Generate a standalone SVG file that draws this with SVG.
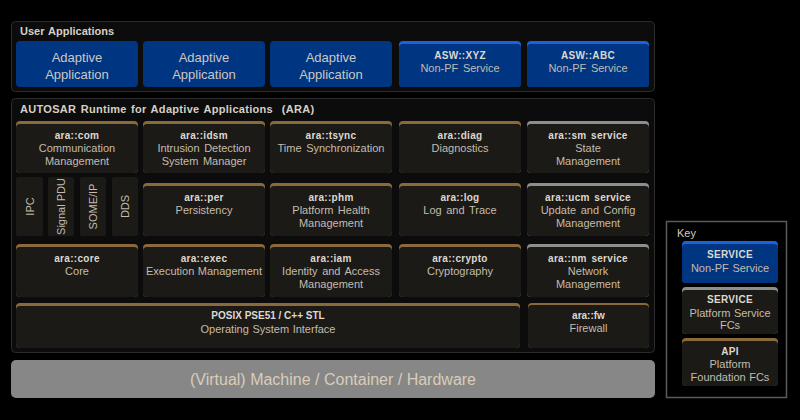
<svg xmlns="http://www.w3.org/2000/svg" width="800" height="420" viewBox="0 0 800 420">
<style>
.panel{fill:#0c0c0c;stroke:#2c2c2c;stroke-width:1}
.body{fill:#1c1a17}
.brown{fill:#8a6a3a}
.gray{fill:#8e8e8e}
.blue{fill:#003582}
.bluetop{fill:#1c62dc}
.t{font-family:"Liberation Sans",Arial,sans-serif;text-anchor:middle}
.h{font-family:"Liberation Sans",Arial,sans-serif;font-size:11px;font-weight:bold;fill:#d6d0c4;word-spacing:1px}
.n{font-size:10px;font-weight:bold;fill:#dcd8d0;letter-spacing:0.3px;word-spacing:1.5px}
.d{font-size:11px;fill:#c4bcac;word-spacing:1.5px}
.app{font-size:13px;fill:#cdc8bf}
.v{font-size:11px;fill:#c4bcac}
.tight{word-spacing:0.5px}
</style>
<rect x="0" y="0" width="800" height="420" fill="#000"/>

<g id="user-apps">
<rect class="panel" x="11.5" y="21.5" width="643" height="70" rx="4"/>
<text class="h" x="20" y="35">User Applications</text>
</g>
<g id="app1"><rect class="blue" x="16" y="41" width="122" height="46" rx="4"/>
<text class="t app" x="77" y="62">Adaptive</text><text class="t app" x="77" y="79">Application</text></g>
<g id="app2"><rect class="blue" x="143" y="41" width="122" height="46" rx="4"/>
<text class="t app" x="204" y="62">Adaptive</text><text class="t app" x="204" y="79">Application</text></g>
<g id="app3"><rect class="blue" x="270" y="41" width="122" height="46" rx="4"/>
<text class="t app" x="331" y="62">Adaptive</text><text class="t app" x="331" y="79">Application</text></g>
<g id="asw-xyz"><rect class="bluetop" x="399" y="41" width="122" height="46" rx="4"/><rect class="blue" x="399" y="44" width="122" height="43" rx="4"/>
<text class="t n" x="460" y="59">ASW::XYZ</text><text class="t d" x="460" y="72">Non-PF Service</text></g>
<g id="asw-abc"><rect class="bluetop" x="527" y="41" width="122" height="46" rx="4"/><rect class="blue" x="527" y="44" width="122" height="43" rx="4"/>
<text class="t n" x="588" y="59">ASW::ABC</text><text class="t d" x="588" y="72">Non-PF Service</text></g>

<g id="ara">
<rect class="panel" x="11.5" y="98.5" width="643" height="254" rx="4"/>
<text class="h" x="20" y="113" letter-spacing="0.3" xml:space="preserve">AUTOSAR Runtime for Adaptive Applications  (ARA)</text>
</g>

<g id="ara-com"><rect class="brown" x="16" y="121" width="122" height="52" rx="4"/><rect class="body" x="16" y="124" width="122" height="49" rx="4"/>
<text class="t n" x="77" y="139">ara::com</text><text class="t d" x="77" y="152">Communication</text><text class="t d" x="77" y="165">Management</text></g>
<g id="ara-idsm"><rect class="brown" x="143" y="121" width="122" height="52" rx="4"/><rect class="body" x="143" y="124" width="122" height="49" rx="4"/>
<text class="t n" x="204" y="139">ara::idsm</text><text class="t d" x="204" y="152">Intrusion Detection</text><text class="t d" x="204" y="165">System Manager</text></g>
<g id="ara-tsync"><rect class="brown" x="270" y="121" width="122" height="52" rx="4"/><rect class="body" x="270" y="124" width="122" height="49" rx="4"/>
<text class="t n" x="331" y="139">ara::tsync</text><text class="t d" x="331" y="152">Time Synchronization</text></g>
<g id="ara-diag"><rect class="brown" x="399" y="121" width="122" height="52" rx="4"/><rect class="body" x="399" y="124" width="122" height="49" rx="4"/>
<text class="t n" x="460" y="139">ara::diag</text><text class="t d" x="460" y="152">Diagnostics</text></g>
<g id="ara-sm"><rect class="gray" x="527" y="121" width="122" height="52" rx="4"/><rect class="body" x="527" y="124" width="122" height="49" rx="4"/>
<text class="t n" x="588" y="139">ara::sm service</text><text class="t d" x="588" y="152">State</text><text class="t d" x="588" y="165">Management</text></g>

<g id="ipc"><rect class="body" x="16" y="177" width="27" height="59" rx="2"/>
<text class="t v" transform="translate(33.5,206.5) rotate(-90)">IPC</text></g>
<g id="signal-pdu"><rect class="body" x="48" y="177" width="26" height="59" rx="2"/>
<text class="t v" transform="translate(65,206.5) rotate(-90)">Signal PDU</text></g>
<g id="someip"><rect class="body" x="80" y="177" width="26" height="59" rx="2"/>
<text class="t v" transform="translate(97,206.5) rotate(-90)">SOME/IP</text></g>
<g id="dds"><rect class="body" x="112" y="177" width="26" height="59" rx="2"/>
<text class="t v" transform="translate(129,206.5) rotate(-90)">DDS</text></g>

<g id="ara-per"><rect class="brown" x="143" y="183" width="122" height="53" rx="4"/><rect class="body" x="143" y="186" width="122" height="50" rx="4"/>
<text class="t n" x="204" y="201">ara::per</text><text class="t d" x="204" y="214">Persistency</text></g>
<g id="ara-phm"><rect class="brown" x="270" y="183" width="122" height="53" rx="4"/><rect class="body" x="270" y="186" width="122" height="50" rx="4"/>
<text class="t n" x="331" y="201">ara::phm</text><text class="t d" x="331" y="214">Platform Health</text><text class="t d" x="331" y="227">Management</text></g>
<g id="ara-log"><rect class="brown" x="399" y="183" width="122" height="53" rx="4"/><rect class="body" x="399" y="186" width="122" height="50" rx="4"/>
<text class="t n" x="460" y="201">ara::log</text><text class="t d" x="460" y="214">Log and Trace</text></g>
<g id="ara-ucm"><rect class="gray" x="527" y="183" width="122" height="53" rx="4"/><rect class="body" x="527" y="186" width="122" height="50" rx="4"/>
<text class="t n" x="588" y="201">ara::ucm service</text><text class="t d" x="588" y="214">Update and Config</text><text class="t d" x="588" y="227">Management</text></g>

<g id="ara-core"><rect class="brown" x="16" y="244" width="122" height="53" rx="4"/><rect class="body" x="16" y="247" width="122" height="50" rx="4"/>
<text class="t n" x="77" y="262">ara::core</text><text class="t d" x="77" y="275">Core</text></g>
<g id="ara-exec"><rect class="brown" x="143" y="244" width="122" height="53" rx="4"/><rect class="body" x="143" y="247" width="122" height="50" rx="4"/>
<text class="t n" x="204" y="262">ara::exec</text><text class="t d" x="204" y="275" style="word-spacing:0.5px">Execution Management</text></g>
<g id="ara-iam"><rect class="brown" x="270" y="244" width="122" height="53" rx="4"/><rect class="body" x="270" y="247" width="122" height="50" rx="4"/>
<text class="t n" x="331" y="262">ara::iam</text><text class="t d" x="331" y="275">Identity and Access</text><text class="t d" x="331" y="288">Management</text></g>
<g id="ara-crypto"><rect class="brown" x="399" y="244" width="122" height="53" rx="4"/><rect class="body" x="399" y="247" width="122" height="50" rx="4"/>
<text class="t n" x="460" y="262">ara::crypto</text><text class="t d" x="460" y="275">Cryptography</text></g>
<g id="ara-nm"><rect class="gray" x="527" y="244" width="122" height="53" rx="4"/><rect class="body" x="527" y="247" width="122" height="50" rx="4"/>
<text class="t n" x="588" y="262">ara::nm service</text><text class="t d" x="588" y="275">Network</text><text class="t d" x="588" y="288">Management</text></g>

<g id="posix"><rect class="brown" x="16" y="303" width="504" height="45" rx="4"/><rect class="body" x="16" y="306" width="504" height="42" rx="4"/>
<text class="t n" x="268" y="319" style="letter-spacing:0;word-spacing:0">POSIX PSE51 / C++ STL</text><text class="t d" x="268" y="333" style="word-spacing:0.5px">Operating System Interface</text></g>
<g id="ara-fw"><rect class="brown" x="528" y="303" width="121" height="45" rx="4"/><rect class="body" x="528" y="305" width="121" height="43" rx="4"/>
<text class="t n" x="588.5" y="319" style="letter-spacing:0">ara::fw</text><text class="t d" x="588.5" y="332">Firewall</text></g>

<g id="machine"><rect x="11" y="360" width="644" height="38" rx="5" fill="#878787"/>
<text class="t" x="333" y="385" font-size="16" fill="#d9cdb8">(Virtual) Machine / Container / Hardware</text></g>

<g id="key">
<rect x="666.5" y="221.5" width="120" height="176" fill="#000" stroke="#5a5a5a" stroke-width="1.5"/>
<text x="677" y="237" font-family="Liberation Sans,Arial,sans-serif" font-size="11" fill="#cfcac0">Key</text>
</g>
<g id="key-nonpf"><rect class="bluetop" x="682" y="241" width="96" height="42" rx="4"/><rect class="blue" x="682" y="244" width="96" height="39" rx="4"/>
<text class="t n" x="730" y="258">SERVICE</text><text class="t d" x="730" y="271.5" style="word-spacing:0.5px">Non-PF Service</text></g>
<g id="key-service"><rect class="gray" x="682" y="287" width="96" height="47" rx="4"/><rect class="body" x="682" y="290" width="96" height="44" rx="4"/>
<text class="t n" x="730" y="303">SERVICE</text><text class="t d" x="730" y="316.5" style="word-spacing:0.5px">Platform Service</text><text class="t d" x="730" y="329">FCs</text></g>
<g id="key-api"><rect class="brown" x="682" y="338" width="96" height="48" rx="4"/><rect class="body" x="682" y="341" width="96" height="45" rx="4"/>
<text class="t n" x="730" y="355">API</text><text class="t d" x="730" y="368">Platform</text><text class="t d" x="730" y="380.5" style="word-spacing:0.5px">Foundation FCs</text></g>
</svg>
